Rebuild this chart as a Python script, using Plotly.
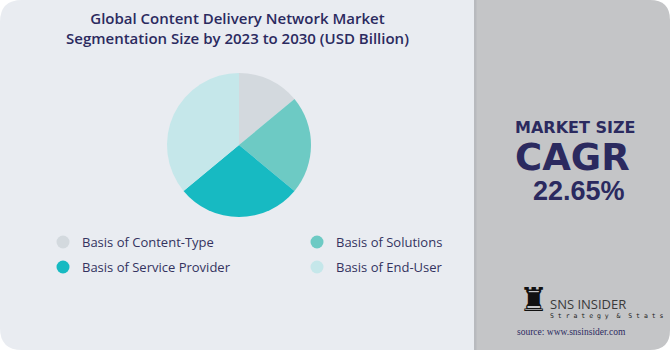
import plotly.graph_objects as go

# Segment shares (percent of the pie), clockwise from 12 o'clock
segments = ["Basis of Content-Type", "Basis of Solutions",
            "Basis of Service Provider", "Basis of End-User"]
shares = [14, 22, 28, 36]
seg_colors = ["#d3d9de", "#6dcac4", "#17bac2", "#c5e7ea"]

title_lines = ["Global Content Delivery Network Market",
               "Segmentation Size by 2023 to 2030 (USD Billion)"]
cagr_label = "MARKET SIZE"
cagr_head = "CAGR"
cagr_value = "22.65%"

W, H = 670, 350
NAVY = "#2b2a5f"
BASE_FONT = "Open Sans"

fig = go.Figure()

fig.add_trace(go.Pie(
    labels=segments, values=shares, sort=False, direction="clockwise",
    rotation=0, marker=dict(colors=seg_colors, line=dict(width=0)),
    textinfo="none", hoverinfo="label+percent", showlegend=False,
    domain=dict(x=[167 / W, 311 / W], y=[(H - 217) / H, (H - 73) / H]),
))

# Two-column legend with round swatches
leg_x = [63, 317, 63, 317]
leg_y = [242, 242, 267, 267]
fig.add_trace(go.Scatter(
    x=leg_x, y=leg_y, mode="markers",
    marker=dict(size=13, color=seg_colors, line=dict(width=0)),
    hoverinfo="skip", showlegend=False,
))
annotations = []
for lx, ly, name in zip(leg_x, leg_y, segments):
    annotations.append(dict(
        x=lx + 17, y=ly, xref="x", yref="y", text=name, showarrow=False,
        xanchor="left", yanchor="middle",
        font=dict(family=BASE_FONT, size=13, color="#34335f"),
    ))

# Two-line title
annotations.append(dict(
    x=237, y=28, xref="x", yref="y", showarrow=False,
    text="<br>".join(title_lines), align="center",
    xanchor="center", yanchor="middle",
    font=dict(family=BASE_FONT, size=15, color=NAVY, weight=600),
))

# CAGR block on the side panel
annotations += [
    dict(x=575, y=127, xref="x", yref="y", text=cagr_label, showarrow=False,
         xanchor="center", yanchor="middle",
         font=dict(family="DejaVu Sans", size=16, color=NAVY, weight="bold")),
    dict(x=572, y=157, xref="x", yref="y", text=cagr_head, showarrow=False,
         xanchor="center", yanchor="middle",
         font=dict(family="DejaVu Sans", size=37, color=NAVY, weight="bold")),
    dict(x=579, y=191, xref="x", yref="y", text=cagr_value, showarrow=False,
         xanchor="center", yanchor="middle",
         font=dict(family="Liberation Sans", size=27, color=NAVY,
                   weight="bold")),
]

# Brand mark
annotations += [
    dict(x=534, y=299, xref="x", yref="y", text="\u265c", showarrow=False,
         xanchor="center", yanchor="middle",
         font=dict(family="DejaVu Sans", size=33, color="#111111")),
    dict(x=548, y=304, xref="x", yref="y", text="SNS INSIDER", showarrow=False,
         xanchor="left", yanchor="middle",
         font=dict(family="Open Sans", size=13, color="#3a3a3a")),
    dict(x=548, y=316, xref="x", yref="y",
         text="S t r a t e g y  &  S t a t s", showarrow=False,
         xanchor="left", yanchor="middle",
         font=dict(family="DejaVu Sans Mono", size=6.5, color="#222222")),
    dict(x=571, y=332, xref="x", yref="y", text="source: www.snsinsider.com",
         showarrow=False, xanchor="center", yanchor="middle",
         font=dict(family="Liberation Serif", size=9.5, color="#2b2a5f")),
]

r1, r2 = 22, 20
left_panel = (f"M 0,{r1} Q 0,0 {r1},0 L 476,0 L 476,{H} L {r1},{H} "
              f"Q 0,{H} 0,{H - r1} Z")
right_panel = (f"M 474,0 L {W - r2},0 Q {W},0 {W},{r2} L {W},{H - r2} "
               f"Q {W},{H} {W - r2},{H} L 474,{H} Z")
shapes = [
    dict(type="path", path=left_panel, xref="x", yref="y",
         fillcolor="#e9ecf1", line=dict(width=0), layer="below"),
    dict(type="path", path=right_panel, xref="x", yref="y",
         fillcolor="#c4c5c7", line=dict(width=0), layer="below"),
    dict(type="rect", x0=474, x1=476.5, y0=0, y1=H, xref="x", yref="y",
         fillcolor="#b8babe", line=dict(width=0), layer="below"),
]

fig.update_layout(
    width=W, height=H, margin=dict(l=0, r=0, t=0, b=0),
    paper_bgcolor="white", plot_bgcolor="rgba(0,0,0,0)",
    xaxis=dict(range=[0, W], visible=False, fixedrange=True),
    yaxis=dict(range=[H, 0], visible=False, fixedrange=True),
    shapes=shapes, annotations=annotations, showlegend=False,
)

fig.write_html("out.html", config=dict(displayModeBar=False))
